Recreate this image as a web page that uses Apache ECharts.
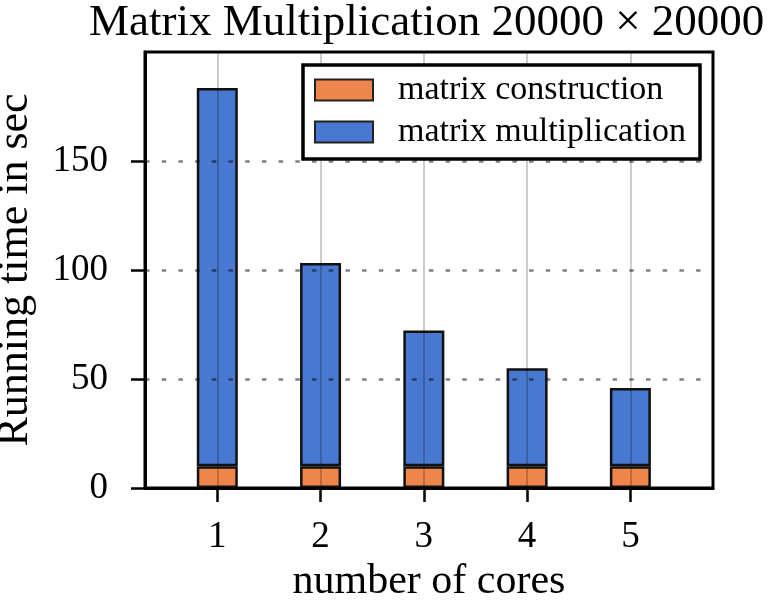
<!DOCTYPE html>
<html>
<head>
<meta charset="utf-8">
<script src="https://cdn.jsdelivr.net/npm/echarts@6/dist/echarts.min.js"></script>
<style>
  html, body { margin: 0; padding: 0; background: #fff; }
  #chart { width: 771px; height: 606px; }
</style>
</head>
<body>
<div id="chart"></div>
<script>
// number of cores on the x axis
const cores = [1, 2, 3, 4, 5];
// seconds spent building the matrices (bottom segment)
const constructionTime = [10, 10, 10, 10, 10];
// seconds spent multiplying (stacked on top)
const multiplicationTime = [173.5, 93.2, 62.2, 44.9, 35.9];
const yTicks = [0, 50, 100, 150];

const serif = "Liberation Serif";
const chart = echarts.init(document.getElementById("chart"));

// time goes first so that it is the dimension that gets stacked
const toPoints = (vals) => cores.map((c, i) => [vals[i], c]);

const option = {
  animation: false,
  title: {
    text: "Matrix Multiplication 20000 × 20000",
    left: 84,
    top: -4,
    textStyle: { fontFamily: serif, fontSize: 45, fontWeight: "normal", color: "#000" },
  },
  legend: {
    orient: "vertical",
    left: 303,
    top: 65,
    padding: [8, 14, 10, 11],
    icon: "rect",
    itemWidth: 58,
    itemHeight: 21,
    itemGap: 8,
    backgroundColor: "#fff",
    borderColor: "#000",
    borderWidth: 3.5,
    borderRadius: 0,
    z: 10,
    itemStyle: { borderColor: "#222", borderWidth: 2 },
    textStyle: { fontFamily: serif, fontSize: 34, color: "#000", padding: [0, 0, 0, 20] },
    data: ["matrix construction", "matrix multiplication"],
  },
  grid: {
    left: 145,
    right: 58,
    top: 52,
    bottom: 118,
    outerBoundsMode: "none",
    containLabel: false,
    show: true,
    borderColor: "#000",
    borderWidth: 3,
    backgroundColor: "transparent",
  },
  xAxis: {
    type: "value",
    min: 0.3,
    max: 5.8,
    z: 3,
    name: "number of cores",
    nameLocation: "middle",
    nameGap: 68,
    nameTextStyle: { fontFamily: serif, fontSize: 42, color: "#000" },
    axisLine: { lineStyle: { color: "#000", width: 3 } },
    axisTick: { customValues: cores, length: 14, lineStyle: { color: "#000", width: 2.5 } },
    axisLabel: { customValues: cores, margin: 31, fontFamily: serif, fontSize: 37, color: "#000" },
    splitLine: { show: true, lineStyle: { color: "rgba(0,0,0,0.2)", width: 2 } },
  },
  yAxis: {
    type: "value",
    min: 0,
    max: 200,
    z: 3,
    name: "Running time in sec",
    nameLocation: "middle",
    nameGap: 108,
    nameTextStyle: { fontFamily: serif, fontSize: 44, color: "#000" },
    axisLine: { show: true, lineStyle: { color: "#000", width: 3 } },
    axisTick: { show: true, customValues: yTicks, length: 14, lineStyle: { color: "#000", width: 2.5 } },
    axisLabel: { customValues: yTicks, margin: 37, fontFamily: serif, fontSize: 37, color: "#000" },
    splitLine: {
      show: true,
      lineStyle: { color: "rgba(0,0,0,0.5)", width: 2.5, type: [4.5, 12.2] },
    },
  },
  series: [
    {
      name: "matrix construction",
      type: "bar",
      stack: "total",
      barWidth: 41,
      encode: { x: 1, y: 0 },
      itemStyle: { color: "#EE854A", borderColor: "#111", borderWidth: 2.5 },
      data: toPoints(constructionTime),
    },
    {
      name: "matrix multiplication",
      type: "bar",
      stack: "total",
      barWidth: 41,
      encode: { x: 1, y: 0 },
      itemStyle: { color: "#4878D0", borderColor: "#111", borderWidth: 2.5 },
      data: toPoints(multiplicationTime),
    },
  ],
};

chart.setOption(option);
</script>
</body>
</html>
